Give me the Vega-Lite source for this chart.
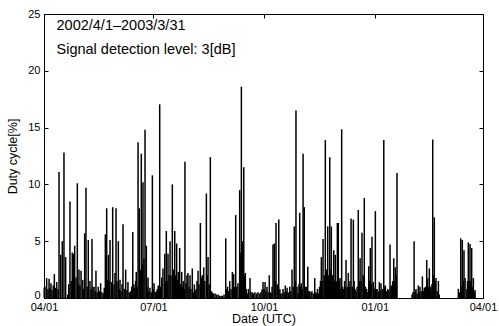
{
  "$schema": "https://vega.github.io/schema/vega-lite/v6.json",
  "width": 439,
  "height": 284,
  "autosize": {"type": "none"},
  "padding": {"left": 44, "top": 14, "right": 16, "bottom": 28},
  "background": "white",
  "config": {
    "view": {"stroke": "black", "strokeWidth": 1},
    "font": "Liberation Sans",
    "axis": {
      "grid": false,
      "domainColor": "black",
      "domainWidth": 1,
      "tickColor": "black",
      "tickWidth": 1,
      "labelColor": "black",
      "labelFont": "Liberation Sans",
      "labelFontSize": 11,
      "titleColor": "black",
      "titleFont": "Liberation Sans",
      "titleFontSize": 12.5,
      "titleFontWeight": "normal"
    }
  },
  "data": {
    "values": [
      {"day":0.2,"duty":0.9},{"day":0.8,"duty":1.0},{"day":2.2,"duty":1.75},{"day":3.3,"duty":0.8},{"day":4.2,"duty":1.7},{"day":5.0,"duty":0.9},{"day":5.8,"duty":1.3},{"day":6.7,"duty":0.7},{"day":7.7,"duty":1.1},{"day":8.6,"duty":2.1},{"day":9.6,"duty":0.9},{"day":10.6,"duty":1.4},{"day":11.6,"duty":0.8},{"day":12.5,"duty":11.1},{"day":13.9,"duty":3.8},{"day":15.2,"duty":5.0},{"day":16.6,"duty":12.8},{"day":18.0,"duty":3.6},{"day":19.7,"duty":0.3},{"day":20.6,"duty":1.2},{"day":21.6,"duty":8.5},{"day":22.6,"duty":1.5},{"day":23.5,"duty":4.0},{"day":24.5,"duty":3.9},{"day":25.5,"duty":4.6},{"day":26.6,"duty":1.8},{"day":27.7,"duty":10.1},{"day":28.4,"duty":1.2},{"day":29.1,"duty":2.5},{"day":29.9,"duty":1.1},{"day":30.8,"duty":2.4},{"day":32.2,"duty":1.6},{"day":33.0,"duty":0.8},{"day":33.8,"duty":5.7},{"day":34.9,"duty":9.7},{"day":35.9,"duty":1.0},{"day":36.8,"duty":5.1},{"day":38.2,"duty":1.5},{"day":39.1,"duty":0.8},{"day":39.9,"duty":5.2},{"day":40.7,"duty":1.0},{"day":41.6,"duty":1.0},{"day":42.4,"duty":0.6},{"day":43.2,"duty":2.4},{"day":44.2,"duty":0.5},{"day":45.1,"duty":1.0},{"day":46.1,"duty":0.6},{"day":47.1,"duty":1.3},{"day":48.2,"duty":0.5},{"day":49.3,"duty":0.4},{"day":50.1,"duty":0.9},{"day":51.0,"duty":5.6},{"day":52.1,"duty":7.9},{"day":52.8,"duty":1.6},{"day":53.5,"duty":3.8},{"day":54.2,"duty":1.5},{"day":54.9,"duty":5.1},{"day":56.3,"duty":1.4},{"day":57.1,"duty":8.0},{"day":58.2,"duty":1.2},{"day":59.0,"duty":2.2},{"day":59.9,"duty":7.9},{"day":60.7,"duty":1.5},{"day":61.8,"duty":5.0},{"day":62.7,"duty":0.8},{"day":63.2,"duty":1.6},{"day":64.0,"duty":0.6},{"day":64.9,"duty":1.2},{"day":65.7,"duty":6.5},{"day":66.8,"duty":0.8},{"day":67.9,"duty":2.5},{"day":69.0,"duty":0.7},{"day":69.8,"duty":1.4},{"day":70.9,"duty":0.5},{"day":72.1,"duty":0.6},{"day":72.9,"duty":1.0},{"day":73.8,"duty":5.8},{"day":74.6,"duty":1.2},{"day":75.4,"duty":0.9},{"day":76.1,"duty":1.5},{"day":76.7,"duty":2.3},{"day":77.5,"duty":1.0},{"day":78.2,"duty":13.7},{"day":79.2,"duty":7.9},{"day":80.1,"duty":2.5},{"day":80.9,"duty":12.7},{"day":81.7,"duty":3.0},{"day":82.3,"duty":10.2},{"day":83.1,"duty":3.5},{"day":84.0,"duty":14.8},{"day":85.1,"duty":4.6},{"day":85.8,"duty":1.0},{"day":86.5,"duty":1.8},{"day":87.3,"duty":0.6},{"day":88.1,"duty":0.9},{"day":89.1,"duty":0.5},{"day":90.1,"duty":10.8},{"day":90.8,"duty":0.8},{"day":91.5,"duty":1.3},{"day":92.5,"duty":0.5},{"day":93.4,"duty":0.6},{"day":94.2,"duty":0.8},{"day":95.0,"duty":1.1},{"day":96.2,"duty":17.05},{"day":97.0,"duty":1.0},{"day":97.9,"duty":1.8},{"day":98.9,"duty":2.6},{"day":100.4,"duty":3.9},{"day":101.0,"duty":1.5},{"day":101.7,"duty":5.9},{"day":102.4,"duty":1.5},{"day":103.1,"duty":3.9},{"day":103.9,"duty":2.0},{"day":104.8,"duty":5.0},{"day":105.6,"duty":2.0},{"day":106.7,"duty":10.0},{"day":107.7,"duty":2.5},{"day":108.7,"duty":5.9},{"day":109.5,"duty":2.0},{"day":110.3,"duty":4.8},{"day":111.0,"duty":1.6},{"day":111.7,"duty":2.3},{"day":112.8,"duty":4.4},{"day":113.7,"duty":1.2},{"day":114.5,"duty":2.3},{"day":115.2,"duty":1.0},{"day":115.8,"duty":1.5},{"day":116.6,"duty":0.8},{"day":117.2,"duty":12.0},{"day":118.1,"duty":1.3},{"day":118.9,"duty":2.0},{"day":119.7,"duty":2.2},{"day":120.6,"duty":1.0},{"day":121.4,"duty":2.0},{"day":122.2,"duty":0.8},{"day":123.3,"duty":2.6},{"day":124.1,"duty":0.5},{"day":125.0,"duty":1.2},{"day":125.8,"duty":0.6},{"day":126.5,"duty":0.8},{"day":127.2,"duty":1.5},{"day":128.1,"duty":2.4},{"day":128.9,"duty":1.2},{"day":130.0,"duty":6.6},{"day":130.8,"duty":1.8},{"day":131.6,"duty":2.0},{"day":132.8,"duty":2.7},{"day":133.7,"duty":1.5},{"day":135.0,"duty":9.2},{"day":135.7,"duty":2.0},{"day":136.4,"duty":3.6},{"day":137.4,"duty":1.2},{"day":138.3,"duty":12.4},{"day":139.1,"duty":0.6},{"day":139.9,"duty":0.5},{"day":140.9,"duty":0.4},{"day":142.2,"duty":0.4},{"day":143.4,"duty":0.3},{"day":144.7,"duty":0.3},{"day":145.9,"duty":0.2},{"day":147.2,"duty":0.2},{"day":148.4,"duty":0.2},{"day":149.7,"duty":0.3},{"day":151.1,"duty":5.25},{"day":151.9,"duty":0.8},{"day":152.6,"duty":1.0},{"day":153.6,"duty":0.6},{"day":154.4,"duty":1.5},{"day":155.5,"duty":0.8},{"day":156.6,"duty":2.3},{"day":157.7,"duty":2.1},{"day":158.6,"duty":1.0},{"day":159.4,"duty":7.3},{"day":160.3,"duty":1.0},{"day":161.3,"duty":1.3},{"day":162.7,"duty":9.5},{"day":163.4,"duty":4.0},{"day":164.1,"duty":18.6},{"day":165.1,"duty":5.0},{"day":166.1,"duty":11.5},{"day":166.7,"duty":2.0},{"day":167.4,"duty":2.2},{"day":168.2,"duty":0.8},{"day":169.0,"duty":0.4},{"day":170.0,"duty":0.8},{"day":171.3,"duty":1.75},{"day":172.1,"duty":0.5},{"day":173.2,"duty":0.5},{"day":174.2,"duty":0.4},{"day":175.4,"duty":0.5},{"day":176.7,"duty":0.4},{"day":177.9,"duty":0.5},{"day":179.2,"duty":0.4},{"day":180.4,"duty":0.5},{"day":181.3,"duty":0.75},{"day":182.1,"duty":1.4},{"day":182.9,"duty":0.8},{"day":183.8,"duty":1.4},{"day":184.6,"duty":0.6},{"day":185.4,"duty":1.0},{"day":186.3,"duty":0.5},{"day":187.3,"duty":2.0},{"day":188.2,"duty":0.5},{"day":189.0,"duty":0.4},{"day":189.6,"duty":1.0},{"day":190.4,"duty":4.7},{"day":191.5,"duty":4.8},{"day":192.2,"duty":1.5},{"day":192.9,"duty":6.6},{"day":193.9,"duty":1.2},{"day":195.2,"duty":6.9},{"day":196.1,"duty":0.8},{"day":196.9,"duty":0.4},{"day":197.9,"duty":0.4},{"day":198.7,"duty":0.8},{"day":199.7,"duty":0.5},{"day":200.6,"duty":1.1},{"day":201.4,"duty":0.6},{"day":202.1,"duty":0.9},{"day":203.1,"duty":0.5},{"day":204.3,"duty":1.0},{"day":205.2,"duty":0.6},{"day":206.2,"duty":2.5},{"day":207.2,"duty":1.0},{"day":208.1,"duty":6.3},{"day":208.9,"duty":1.5},{"day":209.5,"duty":16.5},{"day":210.4,"duty":1.0},{"day":211.2,"duty":0.4},{"day":212.0,"duty":1.2},{"day":212.6,"duty":7.5},{"day":213.3,"duty":1.0},{"day":213.9,"duty":1.3},{"day":214.7,"duty":0.8},{"day":215.4,"duty":12.7},{"day":216.4,"duty":8.0},{"day":217.2,"duty":1.0},{"day":217.9,"duty":0.4},{"day":218.5,"duty":1.0},{"day":219.3,"duty":2.75},{"day":220.1,"duty":0.6},{"day":220.9,"duty":0.6},{"day":222.0,"duty":0.5},{"day":222.8,"duty":0.6},{"day":224.1,"duty":0.4},{"day":225.1,"duty":1.75},{"day":225.9,"duty":0.5},{"day":226.7,"duty":0.4},{"day":227.4,"duty":0.8},{"day":228.2,"duty":0.4},{"day":229.1,"duty":1.0},{"day":229.9,"duty":1.5},{"day":230.6,"duty":3.6},{"day":231.3,"duty":1.5},{"day":232.0,"duty":5.2},{"day":233.0,"duty":2.0},{"day":233.9,"duty":13.9},{"day":234.9,"duty":2.5},{"day":235.9,"duty":6.3},{"day":236.7,"duty":2.0},{"day":237.6,"duty":12.4},{"day":238.2,"duty":2.5},{"day":238.9,"duty":6.3},{"day":239.9,"duty":2.0},{"day":240.9,"duty":4.2},{"day":241.6,"duty":1.5},{"day":242.2,"duty":3.8},{"day":243.0,"duty":1.5},{"day":243.9,"duty":6.6},{"day":244.7,"duty":6.6},{"day":245.5,"duty":1.5},{"day":246.1,"duty":1.75},{"day":246.8,"duty":0.8},{"day":247.5,"duty":14.85},{"day":248.2,"duty":1.0},{"day":248.9,"duty":0.8},{"day":249.9,"duty":1.5},{"day":250.4,"duty":1.0},{"day":251.1,"duty":3.35},{"day":252.1,"duty":1.0},{"day":253.0,"duty":2.2},{"day":253.9,"duty":1.0},{"day":254.4,"duty":1.5},{"day":255.3,"duty":7.0},{"day":256.3,"duty":1.0},{"day":257.2,"duty":6.9},{"day":257.9,"duty":1.5},{"day":258.6,"duty":0.8},{"day":259.4,"duty":0.6},{"day":260.3,"duty":1.0},{"day":261.3,"duty":7.75},{"day":262.1,"duty":1.5},{"day":262.8,"duty":3.5},{"day":263.6,"duty":1.5},{"day":264.4,"duty":5.75},{"day":265.4,"duty":2.0},{"day":266.3,"duty":8.8},{"day":267.3,"duty":1.0},{"day":268.3,"duty":0.8},{"day":269.2,"duty":0.5},{"day":270.0,"duty":2.8},{"day":270.7,"duty":1.5},{"day":271.3,"duty":4.4},{"day":272.1,"duty":1.2},{"day":272.7,"duty":5.4},{"day":273.8,"duty":1.4},{"day":274.6,"duty":0.8},{"day":275.5,"duty":7.65},{"day":276.2,"duty":0.8},{"day":276.9,"duty":0.8},{"day":277.9,"duty":0.6},{"day":278.8,"duty":1.4},{"day":279.5,"duty":0.6},{"day":280.2,"duty":1.3},{"day":281.2,"duty":0.8},{"day":282.5,"duty":13.9},{"day":283.1,"duty":1.0},{"day":283.8,"duty":1.1},{"day":284.8,"duty":0.6},{"day":285.8,"duty":0.8},{"day":286.7,"duty":0.7},{"day":287.7,"duty":4.7},{"day":288.4,"duty":1.0},{"day":289.1,"duty":1.1},{"day":289.9,"duty":1.5},{"day":290.8,"duty":3.5},{"day":291.4,"duty":1.5},{"day":292.1,"duty":2.7},{"day":292.9,"duty":2.0},{"day":293.5,"duty":11.0},{"day":306.0,"duty":0.3},{"day":306.8,"duty":0.5},{"day":307.7,"duty":5.0},{"day":308.5,"duty":0.6},{"day":309.3,"duty":0.8},{"day":310.1,"duty":0.4},{"day":311.2,"duty":1.1},{"day":312.0,"duty":0.5},{"day":312.6,"duty":1.0},{"day":313.6,"duty":0.6},{"day":314.6,"duty":1.9},{"day":315.4,"duty":0.6},{"day":316.2,"duty":0.9},{"day":317.2,"duty":1.0},{"day":318.2,"duty":3.35},{"day":319.0,"duty":1.75},{"day":319.7,"duty":1.0},{"day":320.4,"duty":2.6},{"day":321.1,"duty":1.0},{"day":321.8,"duty":0.8},{"day":322.5,"duty":1.2},{"day":323.2,"duty":13.95},{"day":323.9,"duty":2.0},{"day":324.5,"duty":7.1},{"day":325.3,"duty":1.5},{"day":325.9,"duty":1.75},{"day":326.9,"duty":0.6},{"day":327.9,"duty":1.5},{"day":328.6,"duty":0.3},{"day":344.5,"duty":0.8},{"day":345.5,"duty":0.5},{"day":346.5,"duty":5.25},{"day":347.2,"duty":1.0},{"day":347.8,"duty":5.1},{"day":348.6,"duty":1.5},{"day":349.2,"duty":4.2},{"day":350.1,"duty":1.75},{"day":351.6,"duty":0.8},{"day":352.1,"duty":1.5},{"day":352.8,"duty":4.9},{"day":353.6,"duty":1.5},{"day":354.2,"duty":4.75},{"day":354.9,"duty":1.5},{"day":355.6,"duty":4.4},{"day":356.3,"duty":1.0},{"day":357.0,"duty":1.75},{"day":357.7,"duty":0.5},{"day":358.4,"duty":0.7}
    ]
  },
  "layer": [
    {
      "mark": {"type": "rule", "color": "black", "strokeWidth": 1.5, "strokeCap": "butt"},
      "encoding": {
        "x": {
          "field": "day", "type": "quantitative",
          "scale": {"domain": [0, 365], "nice": false, "zero": false},
          "axis": {
            "orient": "bottom",
            "values": [0, 91, 183, 275, 365],
            "labelExpr": "datum.value == 0 || datum.value == 365 ? '04/01' : datum.value == 91 ? '07/01' : datum.value == 183 ? '10/01' : '01/01'",
            "labelFlush": false,
            "labelOverlap": false,
            "tickSize": -4,
            "labelPadding": 7,
            "title": "Date (UTC)",
            "titlePadding": 0
          }
        },
        "y": {
          "field": "duty", "type": "quantitative",
          "scale": {"domain": [0, 25], "nice": false},
          "axis": {
            "orient": "left",
            "values": [0, 5, 10, 15, 20, 25],
            "tickSize": -4,
            "labelPadding": 8,
            "labelOffset": {"condition": {"test": "datum.value == 0", "value": -3}, "value": 0},
            "title": "Duty cycle[%]",
            "titlePadding": 8
          }
        },
        "y2": {"datum": 0}
      }
    },
    {
      "mark": {"type": "rule", "opacity": 0},
      "encoding": {
        "x": {
          "field": "day", "type": "quantitative",
          "scale": {"domain": [0, 365], "nice": false, "zero": false},
          "axis": {"orient": "top", "values": [0, 91, 183, 275, 365], "labels": false, "tickSize": -4, "title": null, "domain": true}
        },
        "y": {
          "field": "duty", "type": "quantitative",
          "scale": {"domain": [0, 25], "nice": false},
          "axis": {"orient": "right", "values": [0, 5, 10, 15, 20, 25], "labels": false, "tickSize": -4, "title": null, "domain": true}
        },
        "y2": {"datum": 0}
      }
    },
    {
      "data": {"values": [{"label": "2002/4/1–2003/3/31"}]},
      "mark": {"type": "text", "align": "left", "baseline": "middle", "fontSize": 14.5, "font": "Liberation Sans", "color": "black"},
      "encoding": {
        "x": {"datum": 10.4, "type": "quantitative", "axis": null},
        "y": {"datum": 23.9, "type": "quantitative", "axis": null},
        "text": {"field": "label"}
      }
    },
    {
      "data": {"values": [{"label": "Signal detection level: 3[dB]"}]},
      "mark": {"type": "text", "align": "left", "baseline": "middle", "fontSize": 14.5, "font": "Liberation Sans", "color": "black"},
      "encoding": {
        "x": {"datum": 10.4, "type": "quantitative", "axis": null},
        "y": {"datum": 21.83, "type": "quantitative", "axis": null},
        "text": {"field": "label"}
      }
    }
  ]
}
